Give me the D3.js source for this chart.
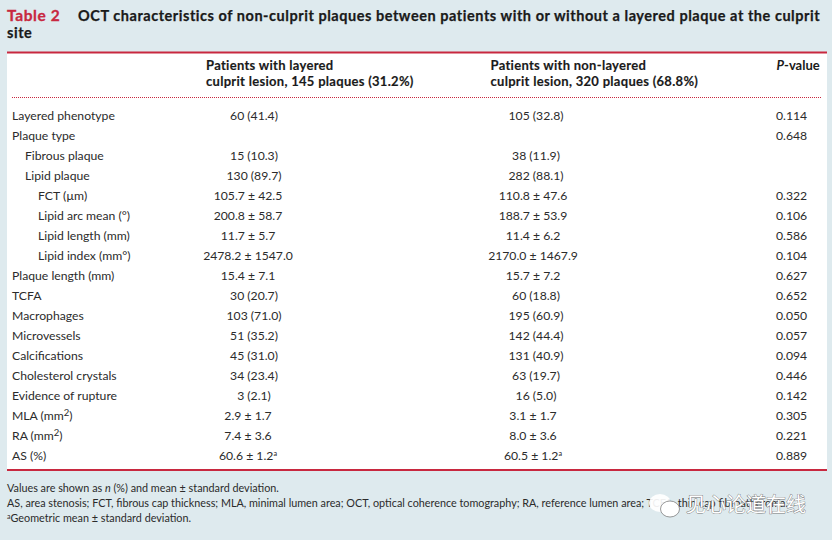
<!DOCTYPE html>
<html><head><meta charset="utf-8">
<script src="https://cdn.jsdelivr.net/npm/d3@7/dist/d3.min.js"></script>
<style>html,body{margin:0;padding:0;background:#deeaee}svg{display:block}text{font-family:Lato,"Open Sans",sans-serif;fill:#2b2b2b}</style>
</head><body><svg id="c" width="832" height="540"></svg>
<script>
const rowLabels=["Layered phenotype","Plaque type","Fibrous plaque","Lipid plaque","FCT (µm)","Lipid arc mean (°)","Lipid length (mm)","Lipid index (mm°)","Plaque length (mm)","TCFA","Macrophages","Microvessels","Calcifications","Cholesterol crystals","Evidence of rupture","MLA (mm|2|)","RA (mm|2|)","AS (%)"];
const rowIndent=[0,0,1,1,2,2,2,2,0,0,0,0,0,0,0,0,0,0];
const layered=["60 (41.4)","","15 (10.3)","130 (89.7)","105.7 ± 42.5","200.8 ± 58.7","11.7 ± 5.7","2478.2 ± 1547.0","15.4 ± 7.1","30 (20.7)","103 (71.0)","51 (35.2)","45 (31.0)","34 (23.4)","3 (2.1)","2.9 ± 1.7","7.4 ± 3.6","60.6 ± 1.2|a|"];
const nonLayered=["105 (32.8)","","38 (11.9)","282 (88.1)","110.8 ± 47.6","188.7 ± 53.9","11.4 ± 6.2","2170.0 ± 1467.9","15.7 ± 7.2","60 (18.8)","195 (60.9)","142 (44.4)","131 (40.9)","63 (19.7)","16 (5.0)","3.1 ± 1.7","8.0 ± 3.6","60.5 ± 1.2|a|"];
const pValues=["0.114","0.648","","","0.322","0.106","0.586","0.104","0.627","0.652","0.050","0.057","0.094","0.446","0.142","0.305","0.221","0.889"];
const header1=["Patients with layered","culprit lesion, 145 plaques (31.2%)"];
const header2=["Patients with non-layered","culprit lesion, 320 plaques (68.8%)"];
const titleLines=["OCT characteristics of non-culprit plaques between patients with or without a layered plaque at the culprit","site"];
const notes=["Values are shown as |n| (%) and mean ± standard deviation.","AS, area stenosis; FCT, fibrous cap thickness; MLA, minimal lumen area; OCT, optical coherence tomography; RA, reference lumen area; TCFA, thin cap fibroatheroma.","^a^Geometric mean ± standard deviation."];
const red="#c8283f", ink="#1a1a1a";
const svg=d3.select("#c");
svg.append("rect").attr("x",7).attr("y",53).attr("width",820).attr("height",417).attr("fill","#fff");
svg.append("line").attr("x1",7).attr("x2",827).attr("y1",52.5).attr("y2",52.5).attr("stroke",red).attr("stroke-width",2);
svg.append("line").attr("x1",7).attr("x2",827).attr("y1",470).attr("y2",470).attr("stroke",red).attr("stroke-width",2);
svg.append("line").attr("x1",12).attr("x2",821).attr("y1",97.5).attr("y2",97.5).attr("stroke",red).attr("stroke-width",1).attr("stroke-dasharray","1 1");
svg.append("text").attr("x",7).attr("y",21).attr("font-size",15.5).attr("font-weight",700).style("fill",red).attr("stroke",red).attr("stroke-width",.3).attr("letter-spacing",.6).text("Table 2");
svg.selectAll(".t").data(titleLines).join("text").attr("x",(d,i)=>i?7:78).attr("y",(d,i)=>21+i*17).attr("font-size",14.5).attr("font-weight",700).style("fill",ink).attr("stroke",ink).attr("stroke-width",.25).attr("letter-spacing",.54).text(d=>d);
function head(lines,x){svg.selectAll(null).data(lines).join("text").attr("x",x).attr("y",(d,i)=>70+i*16).attr("font-size",13).attr("font-weight",700).style("fill",ink).attr("stroke",ink).attr("stroke-width",.15).attr("letter-spacing",.29).text(d=>d);}
head(header1,206);head(header2,490.5);
const pv=svg.append("text").attr("x",776.5).attr("y",70).attr("font-size",13).attr("font-weight",700).style("fill",ink);
pv.append("tspan").attr("font-style","italic").text("P");pv.append("tspan").text("-value");
const y=d3.scaleLinear().domain([0,17]).range([116,456]);
function rich(sel,s,fs){let back=0;s.split("|").forEach((p,i)=>{if(!p)return;const t=sel.append("tspan").text(p);if(i%2==1){t.attr("dy",-4.5).attr("font-size",p==="a"?fs*.6:fs*.78);back=4.5;}else if(back){t.attr("dy",back);back=0;}});}
const rows=rowLabels.map((l,i)=>({l,ind:rowIndent[i],a:layered[i],b:nonLayered[i],p:pValues[i],i}));
const g=svg.selectAll(".r").data(rows).join("g").attr("transform",d=>`translate(0,${y(d.i)})`);
const fs=12.2;
g.append("text").attr("x",d=>12+d.ind*13).attr("dy","0.35em").attr("font-size",fs).each(function(d){rich(d3.select(this),d.l,fs)});
const isMean=s=>s.includes("±");
g.filter(d=>d.a).append("text").attr("x",d=>isMean(d.a)?248:254).attr("text-anchor","middle").attr("dy","0.35em").attr("font-size",fs).each(function(d){rich(d3.select(this),d.a,fs)});
g.filter(d=>d.b).append("text").attr("x",d=>isMean(d.b)?533:536).attr("text-anchor","middle").attr("dy","0.35em").attr("font-size",fs).each(function(d){rich(d3.select(this),d.b,fs)});
g.filter(d=>d.p).append("text").attr("x",776).attr("dy","0.35em").attr("font-size",fs).text(d=>d.p);
const nf=10.8;
notes.forEach((n,i)=>{const t=svg.append("text").attr("x",7).attr("y",492+i*15).attr("font-size",nf);
 if(n.startsWith("^a^")){t.append("tspan").attr("dy",-3).attr("font-size",7).text("a");t.append("tspan").attr("dy",3).text(n.slice(3));}
 else n.split("|").forEach((p,k)=>t.append("tspan").attr("font-style",k%2?"italic":"normal").text(p));});
const w=svg.append("g");
w.append("ellipse").attr("cx",660).attr("cy",503).attr("rx",11).attr("ry",9).attr("fill","#fff").attr("opacity",.92);
w.append("ellipse").attr("cx",670).attr("cy",509).attr("rx",9.5).attr("ry",8).attr("fill","#fff").attr("stroke","#555").attr("stroke-width",.6);
w.append("text").attr("x",686).attr("y",512).attr("font-size",20).style("font-family",'"Noto Sans CJK SC"').style("fill","#fff").style("paint-order","stroke").attr("stroke","#777").attr("stroke-width",.8).text("见心论道在线");
</script></body></html>
